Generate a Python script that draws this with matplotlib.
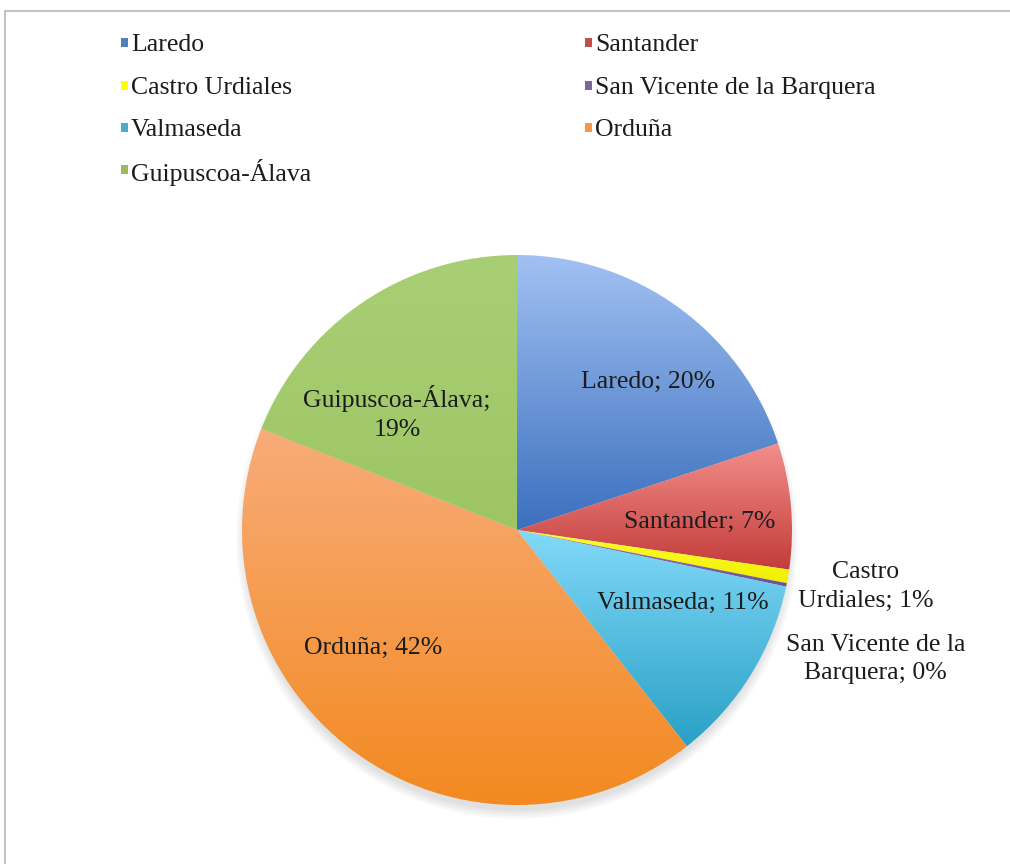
import numpy as np
import matplotlib
matplotlib.use("Agg")
import matplotlib.pyplot as plt
from matplotlib.patches import Rectangle, Circle
from matplotlib.lines import Line2D
from matplotlib.colors import LinearSegmentedColormap

# ---- data ----
categories = ["Laredo", "Santander", "Castro Urdiales", "San Vicente de la Barquera",
              "Valmaseda", "Orduña", "Guipuscoa-Álava"]
values = [19.9, 7.4, 0.8, 0.2, 11.1, 41.6, 19.0]
label_texts = ["Laredo; 20%", "Santander; 7%", "Castro\nUrdiales; 1%",
               "San Vicente de la\nBarquera; 0%", "Valmaseda; 11%",
               "Orduña; 42%", "Guipuscoa-Álava;\n19%"]

# ---- styles ----
top_colors = ["#a3c2f3", "#f3918d", "#ffff33", "#9a80bf", "#84dafa", "#f8ac7a", "#a9cf76"]
bot_colors = ["#3a6ebd", "#c23a39", "#eeee00", "#6c4f91", "#27a0c4", "#f3891f", "#9dc563"]
legend_colors = ["#4f81bd", "#c0504d", "#ffff00", "#8064a2", "#4bacc6", "#f79646", "#9bbb59"]
label_pos = [(0.476, 0.538), (0.665, 0.029), (1.269, -0.204), (1.305, -0.469),
             (0.604, -0.265), (-0.524, -0.429), (-0.436, 0.425)]
FONT = "Liberation Serif"
FS = 18.5

W, H = 1010, 864
fig = plt.figure(figsize=(W / 100, H / 100), dpi=100)
fig.patch.set_facecolor("white")

# frame lines
fig.add_artist(Line2D([5 / W, 5 / W, 1.0], [0.0, 1 - 11 / H, 1 - 11 / H],
                      transform=fig.transFigure, color="#c4c4c4", lw=1.5))

# pie axes: center (517,530) px, radius 275 px
cx, cy, R = 517, 530, 275
ax = fig.add_axes([(cx - R) / W, (H - cy - R) / H, 2 * R / W, 2 * R / H])
ax.set_xlim(-1, 1)
ax.set_ylim(-1, 1)
ax.set_aspect("equal")
ax.axis("off")

# soft shadow (mostly below the pie)
for rr in np.linspace(1.02, 0.99, 5):
    ax.add_patch(Circle((0, -0.03), rr, facecolor="#707070", alpha=0.045,
                        edgecolor="none", zorder=0, clip_on=False))

wedges, _ = ax.pie(values, startangle=90, counterclock=False, radius=1,
                   colors=legend_colors,
                   wedgeprops=dict(edgecolor="none", linewidth=0))

grad = np.linspace(0, 1, 256).reshape(-1, 1)
for w, ct, cb in zip(wedges, top_colors, bot_colors):
    w.set_zorder(1)
    ext = w.get_path().get_extents()
    cmap = LinearSegmentedColormap.from_list("g", [ct, cb])
    im = ax.imshow(grad, cmap=cmap, aspect="auto",
                   extent=(ext.x0 - 0.01, ext.x1 + 0.01, ext.y0 - 0.01, ext.y1 + 0.01),
                   origin="upper", zorder=2, interpolation="bilinear")
    im.set_clip_path(w)
    w.set_facecolor("none")
ax.set_xlim(-1, 1)
ax.set_ylim(-1, 1)

for txt, (x, y) in zip(label_texts, label_pos):
    ax.text(x, y, txt, ha="center", va="center", fontsize=FS, family=FONT,
            color="#1c1c1c", linespacing=1.4, zorder=5, clip_on=False)

# legend (manual)
col_x = [121, 585]
row_y = [45, 88, 130, 172]
for i, (name, col) in enumerate(zip(categories, legend_colors)):
    c = i % 2
    r = i // 2
    x0 = col_x[c]
    y0 = row_y[r]
    fig.add_artist(Rectangle((x0 / W, 1 - (y0 + 2) / H), 7 / W, 9 / H,
                             transform=fig.transFigure, facecolor=col, edgecolor="none"))
    fig.text((x0 + 10) / W, 1 - y0 / H, name, ha="left", va="center",
             fontsize=FS, family=FONT, color="#1c1c1c")

fig.savefig("out.png", dpi=100, facecolor="white")
